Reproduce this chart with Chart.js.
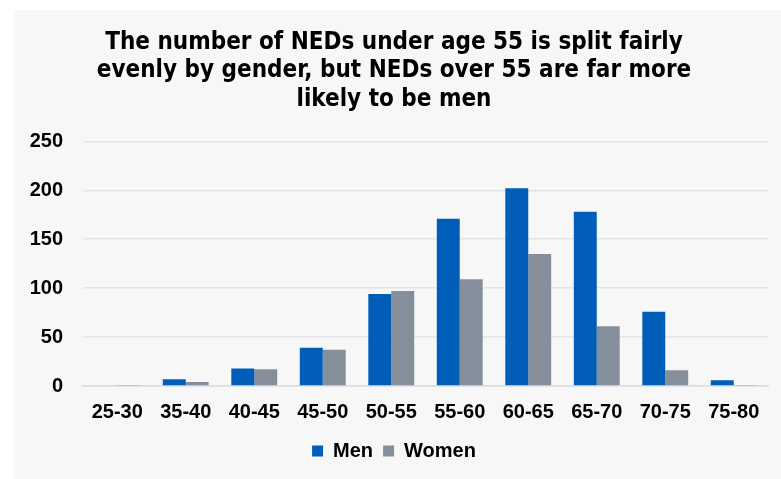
<!DOCTYPE html>
<html>
<head>
<meta charset="utf-8">
<script src="https://cdn.jsdelivr.net/npm/chart.js@4"></script>
<style>
  html, body { margin: 0; padding: 0; background: #ffffff; }
  #wrap { width: 781px; height: 479px; }
</style>
</head>
<body>
<div id="wrap"><canvas id="ned-chart"></canvas></div>
<script>
// ДАННЫЕ
const ageBands = ["25-30", "35-40", "40-45", "45-50", "50-55", "55-60", "60-65", "65-70", "70-75", "75-80"];
const menValues = [0, 7, 18, 39, 94, 171, 202, 178, 76, 6];
const womenValues = [1, 4, 17, 37, 97, 109, 135, 61, 16, 1];
const yTicks = [0, 50, 100, 150, 200, 250];

const titleLines = [
  "The number of NEDs under age 55 is split fairly",
  "evenly by gender, but NEDs over 55 are far more",
  "likely to be men",
];

// серый фон панели
const panelBg = {
  id: "panelBg",
  beforeDraw(chart) {
    const ctx = chart.ctx;
    ctx.save();
    ctx.fillStyle = "#f7f7f7";
    ctx.fillRect(14, 10, chart.width - 14, chart.height - 10);
    ctx.restore();
  },
};

const FONT = "'Liberation Sans', Arial, sans-serif";

new Chart(document.getElementById("ned-chart"), {
  type: "bar",
  data: {
    labels: ageBands,
    datasets: [
      {
        label: "Men",
        data: menValues,
        backgroundColor: "#005EB8",
        categoryPercentage: 0.67,
        barPercentage: 1,
      },
      {
        label: "Women",
        data: womenValues,
        backgroundColor: "#848F9B",
        categoryPercentage: 0.67,
        barPercentage: 1,
      },
    ],
  },
  options: {
    responsive: true,
    maintainAspectRatio: false,
    animation: false,
    layout: {
      padding: { left: 20, right: 13, top: 0, bottom: 8 },
    },
    plugins: {
      legend: {
        display: true,
        position: "bottom",
        labels: {
          boxWidth: 11,
          boxHeight: 11,
          color: "#000000",
          padding: 10,
          font: { family: FONT, size: 20, weight: "bold" },
        },
      },
      title: {
        display: true,
        text: titleLines,
        color: "#000000",
        font: {
          family: "'DejaVu Sans Condensed', " + FONT,
          size: 24,
          weight: "bold",
          lineHeight: 1.2,
        },
        padding: { top: 28, bottom: 27 },
      },
      tooltip: { enabled: false },
    },
    scales: {
      x: {
        grid: { display: false },
        border: { color: "#d9dde2", width: 1.5 },
        afterFit(scale) {
          scale.height = 45;
        },
        ticks: {
          color: "#000000",
          padding: 6,
          maxRotation: 0,
          font: { family: FONT, size: 20, weight: "bold" },
        },
      },
      y: {
        min: 0,
        max: 250,
        afterBuildTicks(scale) {
          scale.ticks = yTicks.map((v) => ({ value: v }));
        },
        afterFit(scale) {
          scale.width = 63;
        },
        grid: { color: "#e1e4e8", lineWidth: 1.5, drawTicks: false },
        border: { display: false },
        ticks: {
          color: "#000000",
          padding: 20,
          font: { family: FONT, size: 20, weight: "bold" },
        },
      },
    },
  },
  plugins: [panelBg],
});
</script>
</body>
</html>
